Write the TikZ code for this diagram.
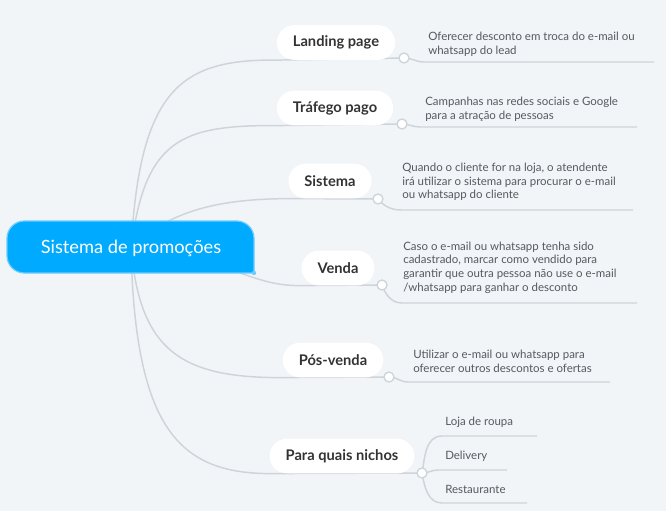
\documentclass[tikz,border=0pt]{standalone}
\usepackage{fontspec}
\setmainfont{Lato}
\usetikzlibrary{positioning, calc, backgrounds}
\definecolor{bg}{RGB}{241,245,248}
\definecolor{rootblue}{RGB}{0,170,255}
\definecolor{rootedge}{RGB}{110,205,255}
\definecolor{linkgray}{RGB}{206,212,218}
\definecolor{txtdark}{RGB}{51,51,51}
\definecolor{txtgray}{RGB}{85,90,96}

\begin{document}
\begin{tikzpicture}[
  x=0.75pt, y=-0.75pt,
  every node/.style={font=\fontsize{8.6}{10.3}\selectfont},
  branch/.style={rectangle, rounded corners=13pt, fill=white, inner xsep=12pt,
                 minimum height=26pt, text=txtdark,
                 font=\fontsize{11}{13}\selectfont\bfseries},
  desc/.style={anchor=west, align=left, inner sep=0pt, text=txtgray},
  dot/.style={circle, draw=linkgray, fill=white, line width=1pt,
              minimum size=7.5pt, inner sep=0pt},
  link/.style={draw=linkgray, line width=1.1pt},
]
% root
\path[fill=rootblue, draw=rootedge, line width=0.9pt]
  (254,250) [rounded corners=13pt] -- (254,221) -- (7,221) -- (7,273)
  -- (130,273) [sharp corners] -- (254,273) -- cycle;
\node[text=white, font=\fontsize{13.7}{16}\selectfont] (root) at (131,248) {Sistema de promoções};
\fill[rootedge] (254,273) circle (2.2);

% branches
\node[branch] (lp) at (336,42.5) {Landing page};
\node[branch] (tp) at (335,108) {Tráfego pago};
\node[branch] (si) at (330,181) {Sistema};
\node[branch] (vd) at (338,268) {Venda};
\node[branch] (pv) at (333,360) {Pós-venda};
\node[branch] (nc) at (342,456) {Para quais nichos};

\node[dot] (lpd) at (404,58)  {};
\node[dot] (tpd) at (402,124) {};
\node[dot] (sid) at (378,199) {};
\node[dot] (vdd) at (382,285) {};
\node[dot] (pvd) at (389,377) {};
\node[dot] (ncd) at (422,473) {};

% descriptions
\node[desc] (lpt) at (428,44.5) {Oferecer desconto em troca do e-mail ou\\whatsapp do lead};
\node[desc] (tpt) at (425,109.5) {Campanhas nas redes sociais e Google\\para a atração de pessoas};
\node[desc] (sit) at (402,182)  {Quando o cliente for na loja, o atendente\\irá utilizar o sistema para procurar o e-mail\\ou whatsapp do cliente};
\node[desc] (vdt) at (403,267.5) {Caso o e-mail ou whatsapp tenha sido\\cadastrado, marcar como vendido para\\garantir que outra pessoa não use o e-mail\\/whatsapp para ganhar o desconto};
\node[desc] (pvt) at (413,361)  {Utilizar o e-mail ou whatsapp para\\oferecer outros descontos e ofertas};
\node[desc] (n1) at (445,422) {Loja de roupa};
\node[desc] (n2) at (445,456) {Delivery};
\node[desc] (n3) at (445,489) {Restaurante};

\coordinate (lpa) at (424,62);  \coordinate (lpe) at (654,62);
\coordinate (tpa) at (420,127); \coordinate (tpe) at (637,127);
\coordinate (sia) at (402,210); \coordinate (sie) at (633,210);
\coordinate (vda) at (402,303); \coordinate (vde) at (637,303);
\coordinate (pva) at (408,382); \coordinate (pve) at (610,382);
\coordinate (n1a) at (442,436); \coordinate (n1e) at (537,436);
\coordinate (n2a) at (438,470); \coordinate (n2e) at (507,470);
\coordinate (n3a) at (442,503); \coordinate (n3e) at (527,503);

\begin{scope}[on background layer]
  \fill[bg] (0,0) rectangle (666,511);
  \draw[link] (root.center) .. controls (140,90) and (180,59) .. (lp.south west) -- (lpd.center);
  \draw[link] (root.center) .. controls (145,140) and (180,125) .. (tp.south west) -- (tpd.center);
  \draw[link] (root.center) .. controls (170,210) and (220,199) .. (si.south west) -- (sid.center);
  \draw[link] (root.center) .. controls (240,262) and (250,286) .. (vd.south west) -- (vdd.center);
  \draw[link] (root.center) .. controls (140,350) and (180,378) .. (pv.south west) -- (pvd.center);
  \draw[link] (root.center) .. controls (135,430) and (180,473) .. (nc.south west) -- (ncd.center);

  \draw[link] (lpd.center) to[out=0, in=180] (lpa) -- (lpe);
  \draw[link] (tpd.center) to[out=0, in=180] (tpa) -- (tpe);
  \draw[link] (sid.center) to[out=-50, in=180] (sia) -- (sie);
  \draw[link] (vdd.center) to[out=-70, in=180] (vda) -- (vde);
  \draw[link] (pvd.center) to[out=0, in=180] (pva) -- (pve);
  \draw[link] (ncd.center) to[out=80, in=180] (n1a) -- (n1e);
  \draw[link] (ncd.center) to[out=0, in=180] (n2a) -- (n2e);
  \draw[link] (ncd.center) to[out=-80, in=180] (n3a) -- (n3e);
\end{scope}
\end{tikzpicture}
\end{document}
